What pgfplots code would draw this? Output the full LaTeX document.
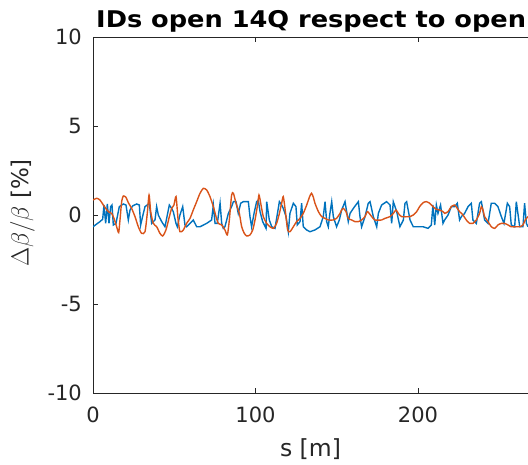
\documentclass[border=0pt]{standalone}
\usepackage{pgfplots}
\pgfplotsset{compat=1.18}
\usepackage{pgfplotstable}
\usepackage{fontspec}
\setmainfont{DejaVu Sans}
\usetikzlibrary{calc}
\definecolor{mblue}{rgb}{0,0.447,0.741}
\definecolor{morange}{rgb}{0.85,0.325,0.098}
\definecolor{axgray}{rgb}{0.15,0.15,0.15}

\pgfplotstableread{
s v
0 -0.66
4.31 -0.37
5.95 -0.24
6.77 0.56
7.79 -0.47
8.82 0.62
9.84 -0.47
10.87 0.47
11.69 0.56
12.51 -0.56
14.15 -0.47
16.2 0.47
18.66 0.62
20.3 0.56
21.74 -0.28
22.77 0.28
24.41 0.51
26.87 0.62
28.51 0.56
29.33 -0.56
30.97 0.09
32.0 0.47
34.66 0.65
36.1 -0.47
38.15 -0.28
39.17 0.47
40.2 0
42.25 -0.37
44.3 -0.66
46.97 0.56
48.4 0.37
49.4 0.19
51.07 -0.47
51.9 -0.66
53.5 0
55.2 0.47
56.6 -0.56
57.6 -0.66
59.7 -0.47
61.7 -0.28
63.8 -0.66
65.85 -0.66
69.95 -0.47
73.0 -0.28
74.05 0.56
75.1 -0.47
76.5 -0.47
78.2 0.66
79.2 -0.47
80.2 -0.75
81.2 -0.66
83.3 0.09
85.3 0.47
86.4 0.75
88.0 0.75
89.4 0.09
90.9 0.66
92.5 0.75
95.6 0.75
96.6 -0.09
97.6 -0.66
99.1 0.09
100.7 0.75
101.7 0.84
102.8 0.19
104.4 -0.37
106.5 -0.75
106.9 0.75
108.5 -0.28
110.0 -0.66
112.0 -0.75
114.7 0.75
116.1 0.56
117.1 0.37
118.8 -0.09
120.2 -0.94
121.2 0.09
123.3 0.66
124.9 0.47
125.7 -0.56
127.4 -0.37
128.4 0.66
129.4 -0.66
131.5 -0.84
133.5 -0.94
136.6 -0.84
139.7 -0.66
141.7 -0.09
142.8 0.75
143.8 -0.37
144.8 -0.66
145.8 0.09
146.9 0.75
147.9 -0.09
149.9 -0.66
151.6 -0.28
153.0 0.28
155.1 0.75
157.1 -0.37
158.2 0.09
160.2 0.37
163.3 0.75
164.3 -0.09
165.3 -0.66
167.4 -0.09
169.4 0.66
170.5 0.75
172.5 -0.09
174.6 -0.66
175.6 0.09
177.6 0.56
180.7 0.75
182.8 0.56
183.8 -0.47
184.8 0.75
186.9 0.19
188.9 -0.66
191.0 -0.28
192.0 0.66
193.0 0.75
195.1 -0.28
197.1 -0.66
200.0 -0.66
203.1 -0.66
206.2 -0.75
208.2 -0.56
209.2 0.56
210.3 -0.56
211.3 0.56
212.3 0.09
213.9 0.56
215.4 -0.47
216.4 -0.28
218.5 0
220.5 0.47
222.6 0.47
224.2 0.66
225.6 -0.28
226.7 -0.09
228.7 0.09
230.8 0.47
232.8 0.66
233.8 -0.28
235.9 -0.47
237.9 0.66
239.0 0.75
241.0 -0.28
243.1 -0.47
245.1 0.66
247.2 0.66
249.2 0.47
251.3 -0.09
252.9 -0.47
255.0 0.66
256.4 0.47
257.4 -0.56
259.5 -0.66
260.5 0.75
262.6 -0.66
264.6 -0.66
265.6 0.66
266.7 -0.47
267.7 -0.66
}\blueline

\pgfplotstableread{
s v
0 0.84
2.26 0.94
4.31 0.84
6.36 0.56
9.43 0.19
11.49 0.09
12.92 -0.19
14.56 -0.66
15.79 -0.99
16.61 -0.28
17.64 0.75
18.66 1.07
20.3 0.99
21.74 0.69
23.79 0.37
25.84 -0.09
27.9 -0.66
29.9 -1.03
32.0 -0.94
33.4 0.09
34.5 1.12
35.5 0.19
37.1 -0.47
39.2 -0.66
41.2 -1.03
42.9 -1.18
44.9 -0.84
47.0 -0.09
48.4 0.37
49.8 0.56
51.1 1.03
52.3 -0.19
53.5 -0.94
55.6 -0.84
57.6 -0.47
59.7 -0.19
61.7 0.28
63.8 0.75
65.85 1.22
67.9 1.50
70.0 1.40
72.0 1.03
74.05 0.47
75.7 -0.09
77.1 -0.47
79.2 -0.56
81.2 -0.84
82.7 -1.12
83.9 -0.28
85.3 1.12
86.4 1.22
88.0 0.66
90.05 0.09
91.5 -0.66
93.1 -1.03
94.6 -1.18
96.6 -1.12
98.3 -0.84
99.7 -0.28
101.1 0.47
102.15 1.12
103.2 0.66
104.8 -0.09
106.9 -0.47
108.9 -0.66
111.0 -0.75
113.0 -0.47
114.7 0.09
116.1 0.66
117.1 1.03
118.4 0.19
119.8 -0.84
121.2 -0.94
123.3 -0.66
125.3 -0.37
127.4 -0.19
129.4 0.09
131.5 0.56
133.3 1.03
134.5 1.22
135.6 1.0
136.6 0.66
138.7 0.19
140.7 -0.09
142.8 -0.19
144.8 -0.28
147.9 -0.28
149.9 -0.19
152.0 0.09
153.0 0.28
154.1 0.37
155.7 0.19
157.1 -0.19
159.2 -0.28
161.2 -0.37
163.3 -0.37
165.3 -0.28
167.4 -0.09
168.8 0.19
170.0 0.09
171.5 -0.09
173.5 -0.28
177.6 -0.28
179.7 -0.19
182.8 -0.09
184.8 0.09
186.5 0.28
187.9 0.09
189.9 -0.09
195.1 -0.09
197.1 0
199.2 0.19
201.0 0.47
203.1 0.69
205.1 0.75
207.2 0.66
209.2 0.47
211.3 0.32
213.3 0.28
215.4 0.19
216.4 0.09
218.5 0.19
220.5 0.47
222.6 0.56
224.2 0.37
225.6 0.19
227.7 0
229.7 -0.28
231.8 -0.47
233.8 -0.47
235.9 -0.28
237.9 0.09
239.0 0.47
240.0 0.28
241.0 -0.09
243.1 -0.37
245.1 -0.66
247.2 -0.75
249.2 -0.56
251.3 -0.47
253.3 -0.47
255.4 -0.56
257.4 -0.66
260.5 -0.66
262.6 -0.66
264.6 -0.56
266.0 -0.28
267.7 -0.09
}\orangeline

\begin{document}
\begin{tikzpicture}
\begin{axis}[
  scale only axis,
  width=435bp, height=356bp,
  xmin=0, xmax=267.7, ymin=-10, ymax=10,
  axis x line*=box, axis y line*=left,
  xtick={0,100,200}, xticklabels={0,100,200},
  ytick={-10,-5,0,5,10}, yticklabels={-10,-5,0,5,10},
  tick align=inside,
  major tick length=5bp,
  axis line style={axgray, line width=0.9bp, -},
  every tick/.style={axgray, line width=0.9bp},
  tick label style={font=\fontsize{21bp}{25bp}\selectfont, text=axgray, inner sep=0pt},
  xticklabel shift=14bp,
  yticklabel shift=11bp,
]
\addplot[mblue, line width=1.4bp] table[x=s, y=v] {\blueline};
\addplot[morange, line width=1.4bp, smooth, tension=0.4] table[x=s, y=v] {\orangeline};
\coordinate (O) at (rel axis cs:0,0);
\end{axis}
\node[rotate=90, anchor=south, inner sep=0pt, text=axgray, font=\fontsize{23bp}{27bp}\selectfont] at ($(O)+(-58bp,180bp)$) {$\Delta\beta/\beta$ [\%]};
\node[anchor=base, inner sep=0pt, text=axgray, font=\fontsize{23.5bp}{27bp}\selectfont] at ($(O)+(217.5bp,-63bp)$) {s [m]};
\node[anchor=base west, inner sep=0pt, xscale=1.115, font=\fontsize{23bp}{28bp}\selectfont\bfseries] at ($(O)+(3bp,365bp)$) {IDs open 14Q respect to open};
\pgfresetboundingbox
\useasboundingbox ($(O)+(-93bp,-72bp)$) rectangle ($(O)+(435bp,393bp)$);
\end{tikzpicture}
\end{document}
